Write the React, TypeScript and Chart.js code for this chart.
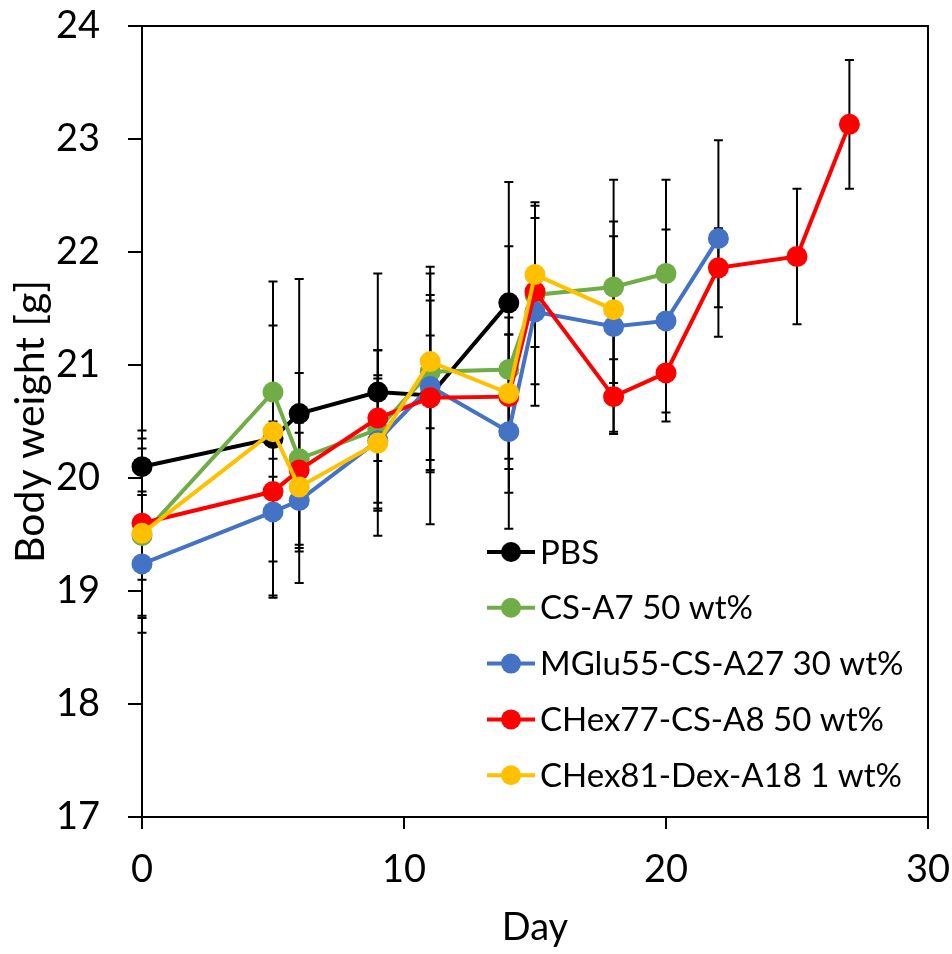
import React, { useEffect, useRef } from "react";
import { Chart, registerables } from "chart.js";

Chart.register(...registerables);

// ---- data ----
const days = [0, 5, 6, 9, 11, 14, 15, 18, 20, 22, 25, 27];
const seriesNames = [
  "PBS",
  "CS-A7 50 wt%",
  "MGlu55-CS-A27 30 wt%",
  "CHex77-CS-A8 50 wt%",
  "CHex81-Dex-A18 1 wt%",
];
const pbs = [20.1, 20.35, 20.57, 20.76, 20.73, 21.55];
const pbsSd = [0.25, 1.39, 1.19, 1.05, 1.14, 1.07];
const csA7 = [19.49, 20.76, 20.17, 20.43, 20.94, 20.96, 21.62, 21.69, 21.81];
const csA7Sd = [0.39, 0.59, 0.76, 0.7, 0.87, 1.09, 0.79, 0.95, 0.83];
const mglu55 = [19.24, 19.7, 19.8, 20.33, 20.81, 20.41, 21.47, 21.34, 21.39, 22.12];
const mglu55Sd = [0.61, 0.76, 0.73, 0.55, 0.76, 0.86, 0.83, 0.93, 0.81, 0.87];
const chex77 = [19.6, 19.88, 20.07, 20.53, 20.71, 20.72, 21.65, 20.72, 20.93, 21.86, 21.96, 23.13];
const chex77Sd = [0.82, 0.62, 0.33, 0.38, 0.55, 0.55, 0.19, 0.33, 0.43, 0.35, 0.6, 0.57];
const chex81 = [19.51, 20.41, 19.92, 20.31, 21.03, 20.75, 21.8, 21.49];
const chex81Sd = [0.75, 0.4, 0.57, 0.82, 0.59, 0.67, 0.64, 0.65];
const colors = ["#000000", "#70AD47", "#4472C4", "#FF0000", "#FFC000"];
const xTickValues = [0, 10, 20, 30];
const yTickValues = [17, 18, 19, 20, 21, 22, 23, 24];
const xTitle = "Day";
const yTitle = "Body weight [g]";

const FONT = "Lato, 'Open Sans', sans-serif";

const values = [pbs, csA7, mglu55, chex77, chex81];
const sds = [pbsSd, csA7Sd, mglu55Sd, chex77Sd, chex81Sd];

const errorBarPlugin = {
  id: "errorBarsAndFrame",
  beforeDatasetsDraw(chart: any) {
    const ctx = chart.ctx;
    const ys = chart.scales.y;
    const { left, right, top, bottom } = chart.chartArea;
    ctx.save();
    ctx.strokeStyle = "#000";
    ctx.lineWidth = 2;
    ctx.beginPath();
    ctx.moveTo(left, top);
    ctx.lineTo(right, top);
    ctx.lineTo(right, bottom);
    ctx.stroke();
    chart.data.datasets.forEach((ds: any, i: number) => {
      const meta = chart.getDatasetMeta(i);
      meta.data.forEach((pt: any, j: number) => {
        const v = ds.data[j].y;
        const e = ds.sd[j];
        const px = pt.x;
        const t = ys.getPixelForValue(v + e);
        const b = ys.getPixelForValue(v - e);
        const cap = 4.5;
        ctx.beginPath();
        ctx.moveTo(px, t);
        ctx.lineTo(px, b);
        ctx.moveTo(px - cap, t);
        ctx.lineTo(px + cap, t);
        ctx.moveTo(px - cap, b);
        ctx.lineTo(px + cap, b);
        ctx.stroke();
      });
    });
    ctx.restore();
  },
};

const legendPlugin = {
  id: "insideLegend",
  afterDraw(chart: any) {
    const ctx = chart.ctx;
    const o = chart.options.plugins.insideLegend;
    ctx.save();
    ctx.font = `${o.fontSize}px ${FONT}`;
    ctx.textBaseline = "middle";
    ctx.textAlign = "left";
    chart.data.datasets.forEach((ds: any, i: number) => {
      const y = o.y0 + i * o.rowGap;
      ctx.strokeStyle = ds.borderColor;
      ctx.lineWidth = 4;
      ctx.beginPath();
      ctx.moveTo(o.x0, y);
      ctx.lineTo(o.x0 + o.lineLen, y);
      ctx.stroke();
      ctx.fillStyle = ds.backgroundColor;
      ctx.beginPath();
      ctx.arc(o.x0 + o.lineLen / 2, y, 10, 0, Math.PI * 2);
      ctx.fill();
      ctx.fillStyle = "#000";
      ctx.fillText(ds.label, o.x0 + o.lineLen + 5, y + 1);
    });
    ctx.restore();
  },
};

export default function App() {
  const ref = useRef<HTMLCanvasElement | null>(null);
  useEffect(() => {
    if (!ref.current) return;
    const datasets = values.map((arr, i) => ({
      label: seriesNames[i],
      data: arr.map((v, j) => ({ x: days[j], y: v })),
      sd: sds[i],
      borderColor: colors[i],
      backgroundColor: colors[i],
      pointBackgroundColor: colors[i],
      pointBorderColor: colors[i],
      pointRadius: 10.5,
      pointBorderWidth: 0,
      borderWidth: 4,
      tension: 0,
      clip: false as any,
      order: 5 - i,
    }));
    const chart = new Chart(ref.current, {
      type: "line",
      data: { datasets } as any,
      plugins: [errorBarPlugin, legendPlugin],
      options: {
        animation: false,
        responsive: false,
        events: [],
        layout: { padding: { left: 0, top: 26, right: 24, bottom: 0 } },
        plugins: {
          legend: { display: false },
          tooltip: { enabled: false },
          insideLegend: { x0: 487, y0: 552, rowGap: 55.8, lineLen: 48, fontSize: 33 },
        } as any,
        scales: {
          x: {
            type: "linear",
            min: 0,
            max: 30,
            afterBuildTicks: (s: any) => {
              s.ticks = xTickValues.map((v) => ({ value: v }));
            },
            afterFit: (s: any) => {
              s.height = 954 - 817;
              s.paddingLeft = 0;
              s.paddingRight = 0;
            },
            border: { display: true, color: "#000", width: 2 },
            grid: { drawOnChartArea: false, drawTicks: true, tickLength: 12, color: "#000", lineWidth: 2 },
            ticks: { color: "#000", font: { family: FONT, size: 38 }, padding: 18, maxRotation: 0 },
            title: {
              display: true,
              text: xTitle,
              color: "#000",
              font: { family: FONT, size: 38 },
              padding: { top: 0, bottom: 3 },
            },
          },
          y: {
            type: "linear",
            min: 17,
            max: 24,
            afterBuildTicks: (s: any) => {
              s.ticks = yTickValues.map((v) => ({ value: v }));
            },
            afterFit: (s: any) => {
              s.width = 142;
              s.paddingTop = 0;
              s.paddingBottom = 0;
            },
            border: { display: true, color: "#000", width: 2 },
            grid: { drawOnChartArea: false, drawTicks: true, tickLength: 14, color: "#000", lineWidth: 2 },
            ticks: { color: "#000", font: { family: FONT, size: 38 }, padding: 28 },
            title: {
              display: true,
              text: yTitle,
              color: "#000",
              font: { family: FONT, size: 41 },
              padding: { top: 6, bottom: 0 },
            },
          },
        },
      } as any,
    });
    return () => chart.destroy();
  }, []);
  return (
    <div style={{ position: "absolute", left: 0, top: 0, width: 952, height: 954, background: "#fff" }}>
      <canvas ref={ref} width={952} height={954} style={{ display: "block" }} />
    </div>
  );
}
